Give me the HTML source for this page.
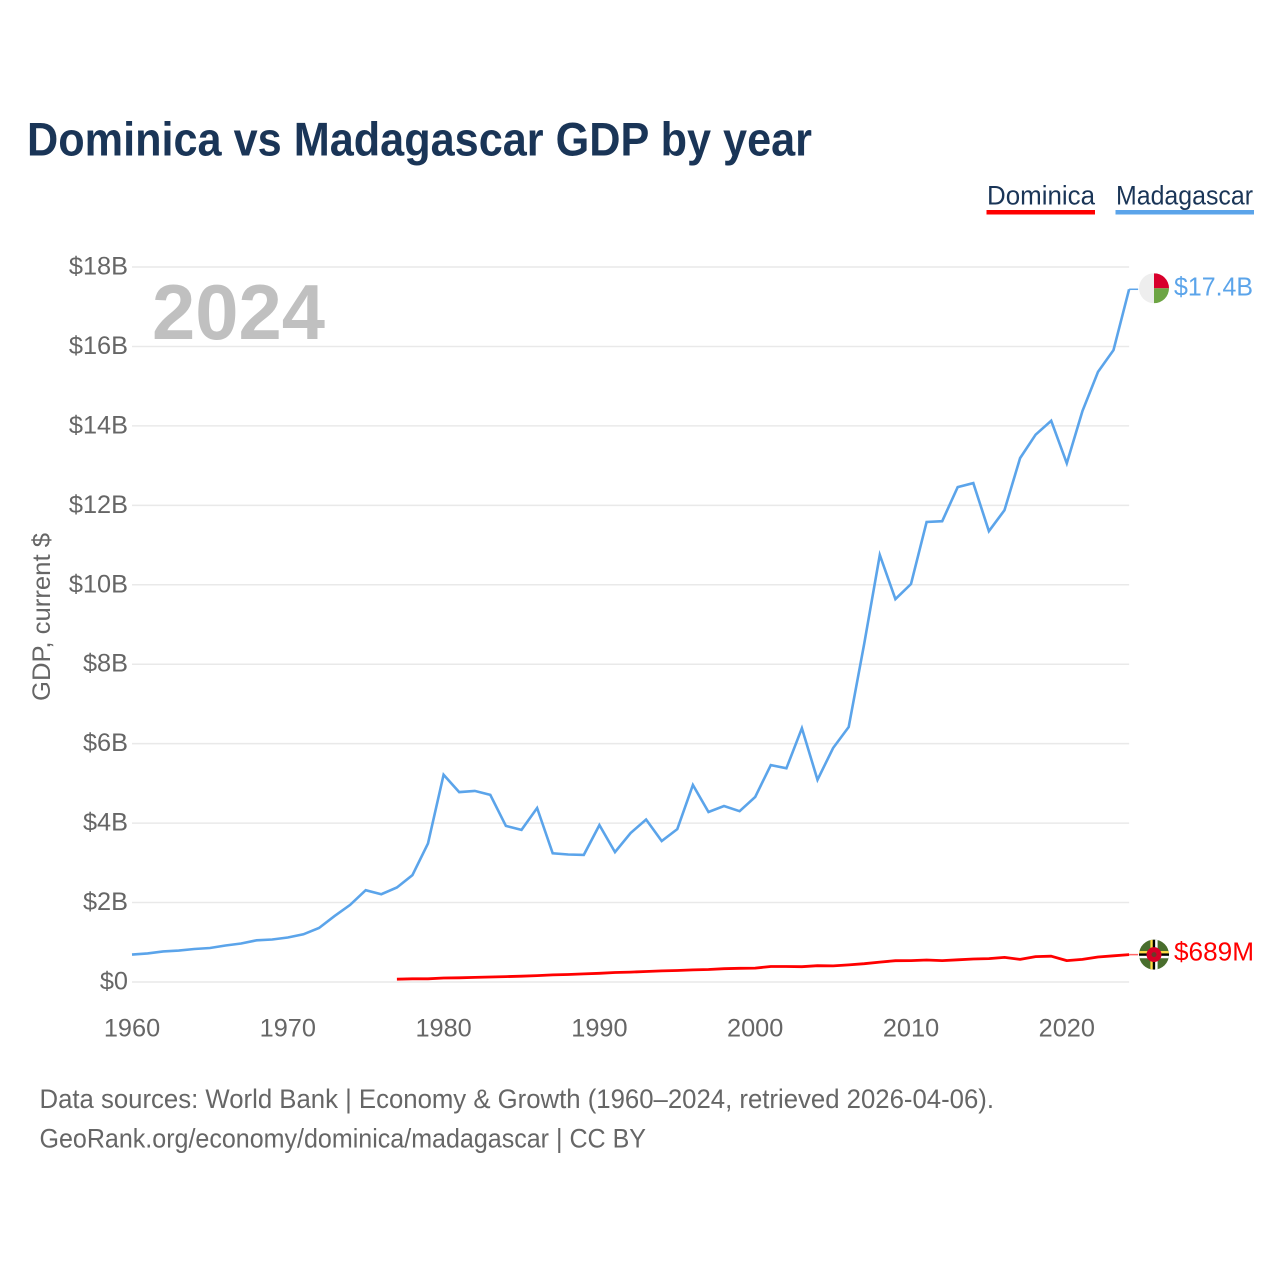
<!DOCTYPE html>
<html lang="en">
<head>
<meta charset="utf-8">
<title>Dominica vs Madagascar GDP by year</title>
<style>
html,body{margin:0;padding:0;background:#fff;width:1280px;height:1280px;overflow:hidden}
svg{display:block;font-family:"Liberation Sans",sans-serif}
</style>
</head>
<body>
<svg id="chart" width="1280" height="1280" viewBox="0 0 1280 1280" xmlns="http://www.w3.org/2000/svg">
  <defs>
    <clipPath id="clip-flag-mg"><circle id="clip-mg-circle" cx="1154" cy="288" r="15"/></clipPath>
    <clipPath id="clip-flag-dm"><circle id="clip-dm-circle" cx="1154" cy="954" r="15"/></clipPath>
  </defs>
  <text x="27" y="155.5" font-size="47" font-weight="700" fill="#1a3557" textLength="785" lengthAdjust="spacingAndGlyphs">Dominica vs Madagascar GDP by year</text>

  <g>
    <g>
      <text x="987" y="204.5" font-size="27" fill="#1a3557" textLength="108" lengthAdjust="spacingAndGlyphs">Dominica</text>
      <rect x="986.5" y="210" width="108.5" height="4.5" fill="#ff0000"/>
    </g>
    <g>
      <text x="1116" y="204.5" font-size="27" fill="#1a3557" textLength="137" lengthAdjust="spacingAndGlyphs">Madagascar</text>
      <rect x="1115.5" y="210" width="138.5" height="4.5" fill="#5ba4ea"/>
    </g>
  </g>

  <g id="grid"></g>
  <g id="y-ticks"></g>
  <g id="x-ticks"></g>

  <text x="152" y="339" font-size="78" font-weight="700" fill="#c0c0c0" textLength="173" lengthAdjust="spacingAndGlyphs">2024</text>
  <text transform="translate(50,617) rotate(-90)" text-anchor="middle" font-size="25" fill="#666666" textLength="168" lengthAdjust="spacingAndGlyphs">GDP, current $</text>

  <g id="series"></g>

  <g id="flag-mg" clip-path="url(#clip-flag-mg)"></g>
  <g id="flag-dm" clip-path="url(#clip-flag-dm)"></g>
  <text id="end-mg" x="1174" font-size="25.5" fill="#5ba4ea" textLength="79" lengthAdjust="spacingAndGlyphs">$17.4B</text>
  <text id="end-dm" x="1174" font-size="25.5" fill="#ff0000" textLength="80" lengthAdjust="spacingAndGlyphs">$689M</text>

  <text x="39.5" y="1108" font-size="27" fill="#666666" textLength="954.5" lengthAdjust="spacingAndGlyphs">Data sources: World Bank | Economy &amp; Growth (1960–2024, retrieved 2026-04-06).</text>
  <text x="39.5" y="1147.5" font-size="27" fill="#666666" textLength="606.5" lengthAdjust="spacingAndGlyphs">GeoRank.org/economy/dominica/madagascar | CC BY</text>
</svg>
<script>
const yTickValues = [0, 2, 4, 6, 8, 10, 12, 14, 16, 18];
const yTickLabels = ['$0', '$2B', '$4B', '$6B', '$8B', '$10B', '$12B', '$14B', '$16B', '$18B'];
const xTickYears = [1960, 1970, 1980, 1990, 2000, 2010, 2020];
const madagascarStartYear = 1960;
const madagascarGdp = [0.69,0.72,0.77,0.79,0.83,0.855,0.92,0.97,1.05,1.07,1.12,1.2,1.36,1.66,1.94,2.31,2.21,2.38,2.69,3.49,5.22,4.78,4.81,4.71,3.93,3.83,4.38,3.24,3.21,3.2,3.95,3.27,3.75,4.09,3.55,3.85,4.96,4.28,4.43,4.3,4.66,5.46,5.38,6.39,5.09,5.89,6.42,8.53,10.75,9.64,10.02,11.58,11.6,12.46,12.56,11.35,11.88,13.19,13.78,14.13,13.06,14.37,15.36,15.91,17.44];
const dominicaStartYear = 1977;
const dominicaGdp = [0.07,0.08,0.08,0.1,0.105,0.115,0.125,0.135,0.145,0.16,0.18,0.19,0.205,0.22,0.24,0.25,0.265,0.28,0.29,0.305,0.315,0.335,0.345,0.35,0.39,0.39,0.385,0.41,0.405,0.43,0.46,0.5,0.535,0.54,0.555,0.54,0.56,0.58,0.59,0.62,0.57,0.64,0.65,0.54,0.57,0.63,0.66,0.689];

const SVG_NS = 'http://www.w3.org/2000/svg';
const plotLeft = 132, pxPerYear = 15.58, plotZero = 982, pxPerBillion = 39.72;
function xScale(year) { return plotLeft + (year - 1960) * pxPerYear; }
function yScale(value) { return plotZero - value * pxPerBillion; }
function make(tag, attrs, parent) {
  const el = document.createElementNS(SVG_NS, tag);
  for (const k in attrs) el.setAttribute(k, attrs[k]);
  parent.appendChild(el);
  return el;
}
function linePoints(values, startYear) {
  return values.map(function (v, i) { return xScale(startYear + i).toFixed(1) + ',' + yScale(v).toFixed(1); }).join(' ');
}

const gridGroup = document.getElementById('grid');
const yTickGroup = document.getElementById('y-ticks');
const xTickGroup = document.getElementById('x-ticks');
const seriesGroup = document.getElementById('series');
const plotRight = xScale(2024);

yTickValues.forEach(function (v, i) {
  const gl = make('line', { x1: plotLeft, x2: plotRight, y1: yScale(v), y2: yScale(v), stroke: '#e9e9e9', 'stroke-width': 1.5 }, gridGroup);
  
  
  const t = make('text', { x: 128, y: yScale(v) + 7.5, 'text-anchor': 'end', 'font-size': 25.3, fill: '#666666' }, yTickGroup);
  t.textContent = yTickLabels[i];
  
  
});

xTickYears.forEach(function (year) {
  const t = make('text', { x: xScale(year), y: 1036.5, 'text-anchor': 'middle', 'font-size': 25.3, fill: '#666666' }, xTickGroup);
  t.textContent = String(year);
  
  
});

const mgLine = make('polyline', { points: linePoints(madagascarGdp, madagascarStartYear), fill: 'none', stroke: '#5ba4ea', 'stroke-width': 2.6, 'stroke-linejoin': 'miter' }, seriesGroup);


const dmLine = make('polyline', { points: linePoints(dominicaGdp, dominicaStartYear), fill: 'none', stroke: '#ff0000', 'stroke-width': 2.8, 'stroke-linejoin': 'round' }, seriesGroup);



const mgEnd = yScale(madagascarGdp[madagascarGdp.length - 1]);
const dmEnd = yScale(dominicaGdp[dominicaGdp.length - 1]);
const mgTail = make('line', { x1: plotRight, x2: plotRight + 9, y1: mgEnd, y2: mgEnd, stroke: '#5ba4ea', 'stroke-width': 1.5 }, seriesGroup);


const dmTail = make('line', { x1: plotRight, x2: plotRight + 9, y1: dmEnd, y2: dmEnd, stroke: '#ff6666', 'stroke-width': 1.5 }, seriesGroup);



const flagX = 1154, r = 15;
const mgY = mgEnd - 1, dmY = dmEnd;
document.getElementById('clip-mg-circle').setAttribute('cy', mgY);
document.getElementById('clip-dm-circle').setAttribute('cy', dmY);
document.getElementById('end-mg').setAttribute('y', mgEnd + 6);
document.getElementById('end-dm').setAttribute('y', dmEnd + 6);

const fm = document.getElementById('flag-mg');
make('rect', { x: flagX - r, y: mgY - r, width: r, height: 2 * r, fill: '#eeeeee' }, fm);
make('rect', { x: flagX, y: mgY - r, width: r, height: r, fill: '#d8002c' }, fm);
make('rect', { x: flagX, y: mgY, width: r, height: r, fill: '#6da544' }, fm);

const fd = document.getElementById('flag-dm');
make('rect', { x: flagX - r, y: dmY - r, width: 2 * r, height: 2 * r, fill: '#496e2d' }, fd);
make('rect', { x: flagX - r, y: dmY - 3.6, width: 2 * r, height: 2.4, fill: '#ffda44' }, fd);
make('rect', { x: flagX - r, y: dmY - 1.2, width: 2 * r, height: 2.4, fill: '#000000' }, fd);
make('rect', { x: flagX - r, y: dmY + 1.2, width: 2 * r, height: 2.4, fill: '#ffffff' }, fd);
make('rect', { x: flagX - 3.6, y: dmY - r, width: 2.4, height: 2 * r, fill: '#ffda44' }, fd);
make('rect', { x: flagX - 1.2, y: dmY - r, width: 2.4, height: 2 * r, fill: '#000000' }, fd);
make('rect', { x: flagX + 1.2, y: dmY - r, width: 2.4, height: 2 * r, fill: '#ffffff' }, fd);
make('circle', { cx: flagX, cy: dmY, r: 7.5, fill: '#d80027' }, fd);
make('circle', { cx: flagX, cy: dmY, r: 2.5, fill: '#6a3a2a' }, fd);
</script>
</body>
</html>
